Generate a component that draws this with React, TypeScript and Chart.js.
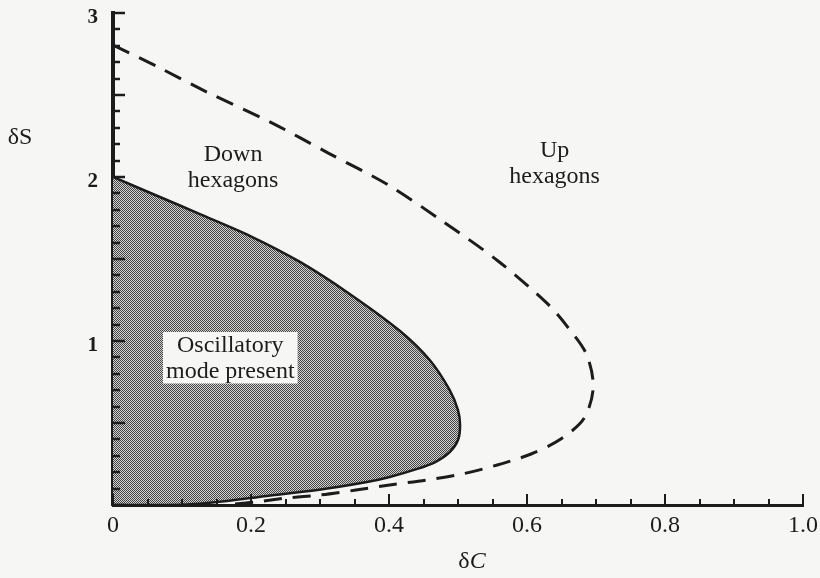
import React, { useEffect, useRef } from 'react';
import { Chart, registerables } from 'chart.js';

Chart.register(...registerables);

// ---- tick labels ----
const xTickLabels = ['0', '0.2', '0.4', '0.6', '0.8', '1.0'];
const yTickLabels = ['', '1', '2', '3'];

// ---- oscillatory-mode boundary (solid, shaded inside) ----
const oscX = [0, 0.068, 0.126, 0.199, 0.271, 0.343, 0.416, 0.459, 0.488, 0.500, 0.503, 0.500, 0.488, 0.467, 0.441, 0.401, 0.368, 0.296, 0.223, 0.165, 0.119, 0.080, 0];
const oscY = [2.00, 1.878, 1.774, 1.640, 1.482, 1.287, 1.061, 0.884, 0.701, 0.579, 0.488, 0.396, 0.323, 0.262, 0.220, 0.171, 0.140, 0.091, 0.055, 0.024, 0.006, 0.0, 0.0];

// ---- up/down hexagon boundary (dashed) ----
const hexX = [0, 0.068, 0.136, 0.228, 0.312, 0.399, 0.475, 0.558, 0.630, 0.659, 0.686, 0.696, 0.683, 0.649, 0.606, 0.557, 0.506, 0.454, 0.401, 0.352, 0.300, 0.252, 0.206, 0.162];
const hexY = [2.805, 2.665, 2.518, 2.335, 2.146, 1.951, 1.738, 1.488, 1.226, 1.085, 0.921, 0.720, 0.530, 0.402, 0.311, 0.244, 0.189, 0.152, 0.122, 0.091, 0.061, 0.043, 0.018, 0.0];

// ---- region labels ----
const regionLabels = [
  { lines: ['Down', 'hexagons'], x: 0.174, y: 2.098, boxed: false },
  { lines: ['Up', 'hexagons'], x: 0.640, y: 2.122, boxed: false },
  { lines: ['Oscillatory', 'mode present'], x: 0.170, y: 0.933, boxed: true },
];

const INK = '#1c1c1c';
const PAPER = '#f6f6f4';
const SERIF = '"Liberation Serif", "DejaVu Serif", serif';

const toPts = (xs: number[], ys: number[]) => xs.map((x, i) => ({ x, y: ys[i] }));

const clearPadding = (s: any) => {
  s.paddingTop = 0;
  s.paddingBottom = 0;
  s.paddingLeft = 0;
  s.paddingRight = 0;
};

const paperPlugin = {
  id: 'paper',
  beforeDraw(chart: any) {
    const { ctx, width, height } = chart;
    ctx.save();
    ctx.fillStyle = PAPER;
    ctx.fillRect(0, 0, width, height);
    ctx.restore();
  },
};

const decorPlugin = {
  id: 'decor',
  afterDatasetsDraw(chart: any) {
    const { ctx } = chart;
    const xs = chart.scales.x;
    const ys = chart.scales.y;
    ctx.save();
    ctx.font = `24px ${SERIF}`;
    ctx.textAlign = 'center';
    ctx.textBaseline = 'alphabetic';
    const gap = 26.5;
    for (const lab of regionLabels) {
      const cx = xs.getPixelForValue(lab.x);
      const by = ys.getPixelForValue(lab.y);
      if (lab.boxed) {
        const w = Math.max(...lab.lines.map((l) => ctx.measureText(l).width));
        ctx.fillStyle = PAPER;
        ctx.fillRect(cx - w / 2 - 3, by - 20, w + 6, gap * (lab.lines.length - 1) + 25);
      }
      ctx.fillStyle = INK;
      lab.lines.forEach((l, i) => ctx.fillText(l, cx, by + i * gap));
    }
    ctx.restore();
  },
  afterDraw(chart: any) {
    const { ctx } = chart;
    const xs = chart.scales.x;
    const ys = chart.scales.y;
    const area = chart.chartArea;
    ctx.save();
    ctx.strokeStyle = INK;
    ctx.lineWidth = 2;
    for (let k = 0; k <= 20; k++) {
      const v = k * 0.05;
      const px = Math.round(xs.getPixelForValue(v));
      const len = k % 4 === 0 ? 11 : 6;
      ctx.beginPath();
      ctx.moveTo(px, area.bottom);
      ctx.lineTo(px, area.bottom - len);
      ctx.stroke();
    }
    ctx.lineWidth = 2.5;
    for (let k = 0; k <= 30; k++) {
      const v = k * 0.1;
      const py = Math.round(ys.getPixelForValue(v));
      const len = k % 5 === 0 ? 10 : 5;
      ctx.beginPath();
      ctx.moveTo(area.left, py);
      ctx.lineTo(area.left + 2 + len, py);
      ctx.stroke();
    }
    ctx.fillStyle = INK;
    ctx.textBaseline = 'middle';
    ctx.textAlign = 'center';
    ctx.font = `24px ${SERIF}`;
    ctx.fillText('δS', 20, 138);
    const cx = 472;
    ctx.textAlign = 'left';
    const wd = ctx.measureText('δ').width;
    ctx.font = `italic 24px ${SERIF}`;
    const wc = ctx.measureText('C').width;
    const start = cx - (wd + wc) / 2;
    ctx.font = `24px ${SERIF}`;
    ctx.fillText('δ', start, 562);
    ctx.font = `italic 24px ${SERIF}`;
    ctx.fillText('C', start + wd, 562);
    ctx.restore();
  },
};

export default function App() {
  const ref = useRef<HTMLCanvasElement | null>(null);

  useEffect(() => {
    document.body.style.margin = '0';
    const canvas = ref.current;
    if (!canvas) return;

    const pc = document.createElement('canvas');
    pc.width = 2;
    pc.height = 2;
    const pctx = pc.getContext('2d')!;
    pctx.fillStyle = '#d2d2d2';
    pctx.fillRect(0, 0, 2, 2);
    pctx.fillStyle = '#444444';
    pctx.fillRect(0, 0, 1, 1);
    pctx.fillRect(1, 1, 1, 1);
    const ctx0 = canvas.getContext('2d')!;
    const pattern = ctx0.createPattern(pc, 'repeat');

    const chart = new Chart(canvas, {
      type: 'scatter',
      data: {
        datasets: [
          {
            label: 'Oscillatory mode present',
            data: toPts(oscX, oscY),
            showLine: true,
            fill: 'shape',
            backgroundColor: pattern as any,
            borderColor: INK,
            borderWidth: 2.5,
            pointRadius: 0,
            tension: 0.3,
          },
          {
            label: 'Hexagon boundary',
            data: toPts(hexX, hexY),
            showLine: true,
            fill: false,
            borderColor: INK,
            borderWidth: 3,
            borderDash: [18, 11],
            pointRadius: 0,
            tension: 0.3,
          },
        ],
      },
      options: {
        animation: false,
        responsive: false,
        devicePixelRatio: 1,
        layout: { padding: { top: 13, right: 17, left: 0, bottom: 0 }, autoPadding: false } as any,
        plugins: { legend: { display: false }, tooltip: { enabled: false } },
        scales: {
          x: {
            type: 'linear',
            min: 0,
            max: 1,
            z: 1,
            afterFit: (s: any) => {
              s.height = 73;
              clearPadding(s);
            },
            grid: { display: false, drawTicks: false },
            border: { display: true, width: 3, color: INK },
            ticks: {
              stepSize: 0.2,
              autoSkip: false,
              maxRotation: 0,
              padding: 6,
              color: INK,
              font: { family: SERIF, size: 24 },
              callback: (_v: any, i: number) => xTickLabels[i],
            },
          },
          y: {
            type: 'linear',
            min: 0,
            max: 3,
            z: 1,
            afterFit: (s: any) => {
              s.width = 113;
              clearPadding(s);
            },
            grid: { display: false, drawTicks: false },
            border: { display: true, width: 4, color: INK },
            ticks: {
              stepSize: 1,
              autoSkip: false,
              padding: 15,
              labelOffset: 5,
              color: INK,
              font: { family: SERIF, size: 21, weight: 'bold' },
              callback: (_v: any, i: number) => yTickLabels[i],
            },
          },
        },
      },
      plugins: [paperPlugin, decorPlugin],
    });

    return () => chart.destroy();
  }, []);

  return (
    <div style={{ position: 'absolute', left: 0, top: 0, width: 820, height: 578 }}>
      <canvas ref={ref} width={820} height={578} />
    </div>
  );
}
